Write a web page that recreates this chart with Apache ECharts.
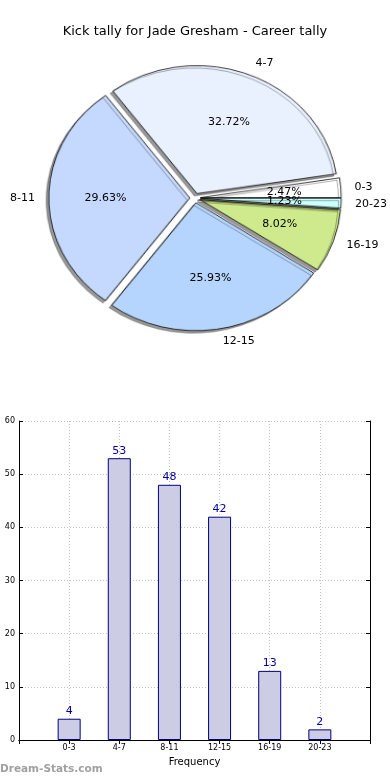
<!DOCTYPE html>
<html>
<head>
<meta charset="utf-8">
<script src="https://cdn.jsdelivr.net/npm/echarts@6/dist/echarts.min.js"></script>
<style>
html,body{margin:0;padding:0;background:#fff;}
#wrap{position:relative;width:390px;height:780px;overflow:hidden;}
#pie{position:absolute;left:0;top:0;width:390px;height:400px;}
#c{position:absolute;left:0;top:0;width:390px;height:780px;}
</style>
</head>
<body>
<div id="wrap"><div id="pie"></div><div id="c"></div></div>
<script>
const categories = ['0-3', '4-7', '8-11', '12-15', '16-19', '20-23'];
const counts = [4, 53, 48, 42, 13, 2];
const sliceColors = ['#ffffff', '#eaf1fe', '#c5d9fe', '#b5d5ff', '#cfea8c', '#ccffff'];
const yTicks = [0, 10, 20, 30, 40, 50, 60];
const titleText = 'Kick tally for Jade Gresham - Career tally';

const FONT = 'DejaVu Sans';
const R = 135;            // pie radius before the elliptical stretch
const RX = 141, RY = 128; // visible half-axes of the (matplotlib) elliptical pie
const CX = 195, CY = 198;
const OFF = 5;
const total = counts.reduce((a, b) => a + b, 0);

// elliptical stretch of the pie drawing
const pieDiv = document.getElementById('pie');
pieDiv.style.transformOrigin = CX + 'px ' + CY + 'px';
pieDiv.style.transform = 'scale(' + (RX / R) + ',' + (RY / R) + ')';

const pieChart = echarts.init(pieDiv, null, { renderer: 'canvas' });
pieChart.setOption({
  animation: false,
  series: [{
    type: 'pie', center: [CX, CY], radius: [0, R],
    startAngle: 0, clockwise: false,
    selectedMode: 'multiple', selectedOffset: OFF,
    avoidLabelOverlap: false, silent: true,
    itemStyle: {
      borderColor: '#000', borderWidth: 0.8,
      shadowColor: 'rgba(0,0,0,0.4)', shadowOffsetX: -2.5, shadowOffsetY: 2.5, shadowBlur: 0
    },
    emphasis: { disabled: true },
    label: { show: false }, labelLine: { show: false },
    data: categories.map((c, i) => ({
      name: c, value: counts[i], selected: true, itemStyle: { color: sliceColors[i] }
    }))
  }]
});

// label geometry derived from the data (mid-angle of each slice)
let acc = 0;
const mids = counts.map(v => { const m = (acc + v / 2) / total * 2 * Math.PI; acc += v; return m; });
const reff = mids.map(m => Math.hypot(RX * Math.cos(m), RY * Math.sin(m)));
// correction from the circular label anchor to the elliptical one
const corr = (i, k) => ({
  dx: k * (RX - reff[i]) * Math.cos(mids[i]),
  dy: -k * (RY - reff[i]) * Math.sin(mids[i])
});
const W = 50;

const labelSeries = [];
categories.forEach((c, i) => {
  const mkData = () => categories.map((cc, j) => ({
    name: cc, value: counts[j], selected: true,
    label: { show: j === i }
  }));
  // category name at 1.1 r
  labelSeries.push({
    type: 'pie', center: [CX, CY], radius: [0, reff[i]],
    startAngle: 0, clockwise: false,
    selectedMode: 'multiple', selectedOffset: OFF,
    avoidLabelOverlap: false, silent: true,
    labelLayout: () => Object.assign({ hideOverlap: false }, corr(i, 1.1)),
    itemStyle: { color: 'rgba(0,0,0,0)', borderWidth: 0 },
    emphasis: { disabled: true },
    label: {
      show: true, position: 'outside', formatter: '{b}',
      fontFamily: FONT, fontSize: 11, color: '#000', distanceToLabelLine: 0
    },
    labelLine: { show: false, length: reff[i] * 0.1, length2: 0 },
    data: mkData()
  });
  // percentage at 0.6 r
  labelSeries.push({
    type: 'pie', center: [CX, CY], radius: [0, reff[i] * 0.6],
    startAngle: 0, clockwise: false,
    selectedMode: 'multiple', selectedOffset: OFF,
    avoidLabelOverlap: false, silent: true,
    labelLayout: () => Object.assign({ hideOverlap: false }, corr(i, 0.6)),
    itemStyle: { color: 'rgba(0,0,0,0)', borderWidth: 0 },
    emphasis: { disabled: true },
    label: {
      show: true, position: 'outside',
      formatter: p => '{a|' + (p.value / total * 100).toFixed(2) + '%}',
      distanceToLabelLine: -W / 2,
      rich: { a: { width: W, align: 'center', fontFamily: FONT, fontSize: 11, color: '#000' } }
    },
    labelLine: { show: false, length: 0, length2: 0 },
    data: mkData()
  });
});

const barCats = [''].concat(categories, ['']);
const barVals = ['-'].concat(counts, ['-']);

const chart = echarts.init(document.getElementById('c'), null, { renderer: 'canvas' });
chart.setOption({
  animation: false,
  backgroundColor: 'transparent',
  title: {
    text: titleText, left: 'center', top: 20,
    textStyle: { fontFamily: FONT, fontSize: 13, fontWeight: 'normal', color: '#000' }
  },
  graphic: [{
    type: 'text', left: 0, top: 764,
    style: { text: 'Dream-Stats.com', fontFamily: FONT, fontSize: 10.5, fontWeight: 'bold', fill: '#a0a0a0' }
  }],
  grid: { left: 19, top: 421, width: 351, height: 319, show: false },
  xAxis: [{
    type: 'category', data: barCats, boundaryGap: false, position: 'bottom',
    name: 'Frequency', nameLocation: 'middle', nameGap: 17,
    nameTextStyle: { fontFamily: FONT, fontSize: 10, color: '#000' },
    axisLine: { lineStyle: { color: '#000', width: 1 } },
    axisTick: { inside: true, length: 4, lineStyle: { color: '#000' } },
    axisLabel: { fontFamily: FONT, fontSize: 8, color: '#000', margin: 4, interval: 0 },
    splitLine: { show: true, lineStyle: { color: '#c0c0c0', type: [1, 2], width: 1 } }
  }, {
    type: 'category', data: barCats, boundaryGap: false, position: 'top',
    axisLine: { lineStyle: { color: '#000', width: 1 } },
    axisTick: { inside: true, length: 4, lineStyle: { color: '#000' } },
    axisLabel: { show: false }, splitLine: { show: false }
  }],
  yAxis: [{
    type: 'value', min: yTicks[0], max: yTicks[yTicks.length - 1], interval: yTicks[1] - yTicks[0], position: 'left',
    axisLine: { show: true, lineStyle: { color: '#000', width: 1 } },
    axisTick: { show: true, inside: true, length: 4, lineStyle: { color: '#000' } },
    axisLabel: { fontFamily: FONT, fontSize: 8, color: '#000', margin: 4 },
    splitLine: { show: true, lineStyle: { color: '#c0c0c0', type: [1, 2], width: 1 } }
  }, {
    type: 'value', min: yTicks[0], max: yTicks[yTicks.length - 1], interval: yTicks[1] - yTicks[0], position: 'right',
    axisLine: { show: true, lineStyle: { color: '#000', width: 1 } },
    axisTick: { show: true, inside: true, length: 4, lineStyle: { color: '#000' } },
    axisLabel: { show: false }, splitLine: { show: false }
  }],
  series: labelSeries.concat([{
    type: 'bar', xAxisIndex: 0, yAxisIndex: 0,
    data: barVals, barWidth: 23,
    itemStyle: { color: '#ccccE4', borderColor: '#000080', borderWidth: 1 },
    label: {
      show: true, position: 'top', distance: 2,
      fontFamily: FONT, fontSize: 11, color: '#0000a0'
    },
    emphasis: { disabled: true }, z: 1
  }])
});
</script>
</body>
</html>
